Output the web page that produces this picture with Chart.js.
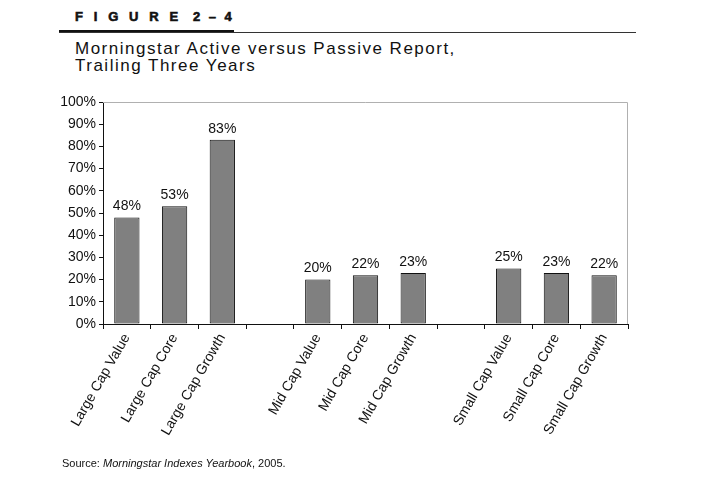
<!DOCTYPE html>
<html>
<head>
<meta charset="utf-8">
<script src="https://cdn.jsdelivr.net/npm/chart.js@4.4.1/dist/chart.umd.min.js"></script>
<style>
  body { margin: 0; background: #fff; font-family: "Liberation Sans", Arial, sans-serif; }
  #wrap { position: relative; width: 720px; height: 500px; overflow: hidden; }
  #fig { position: absolute; left: 75px; top: 9px; font-size: 13px; font-weight: bold; color: #111;
         -webkit-text-stroke: 0.6px #111; white-space: nowrap; }
  #fig .w { letter-spacing: 10.8px; }
  #fig .n { letter-spacing: 8.5px; margin-left: 4px; }
  #thick { position: absolute; left: 59px; top: 30px; width: 175px; height: 3px; background: #111; }
  #thin { position: absolute; left: 59px; top: 32px; width: 577px; height: 1px; background: #333; }
  #title { position: absolute; left: 75px; top: 40px; font-size: 17px; line-height: 17px; letter-spacing: 1.5px; color: #111; }
  #source { position: absolute; left: 62px; top: 457px; font-size: 11px; color: #111; }
  canvas { position: absolute; left: 0; top: 0; }
</style>
</head>
<body>
<div id="wrap">
  <div id="fig"><span class="w">FIGURE</span><span class="n">2–4</span></div>
  <div id="thick"></div>
  <div id="thin"></div>
  <div id="title">Morningstar Active versus Passive Report,<br>Trailing Three Years</div>
  <canvas id="chart" width="720" height="500"></canvas>
  <div id="source">Source: <i>Morningstar Indexes Yearbook</i>, 2005.</div>
</div>
<script>
var categories = ['Large Cap Value', 'Large Cap Core', 'Large Cap Growth', '',
  'Mid Cap Value', 'Mid Cap Core', 'Mid Cap Growth', '',
  'Small Cap Value', 'Small Cap Core', 'Small Cap Growth'];
var values = [48, 53, 83, null, 20, 22, 23, null, 25, 23, 22];
var yTicks = [0, 10, 20, 30, 40, 50, 60, 70, 80, 90, 100];

var font = '"Liberation Sans", Arial, sans-serif';

// value labels above bars + gray top/right frame
var extras = {
  id: 'extras',
  afterDatasetsDraw: function (chart) {
    var ctx = chart.ctx;
    var area = chart.chartArea;
    ctx.save();
    ctx.strokeStyle = '#b0b0b0';
    ctx.lineWidth = 1;
    ctx.beginPath();
    ctx.moveTo(area.left, area.top + 0.5);
    ctx.lineTo(area.right - 0.5, area.top + 0.5);
    ctx.lineTo(area.right - 0.5, area.bottom);
    ctx.stroke();

    ctx.fillStyle = '#111';
    ctx.font = '14px ' + font;
    ctx.textAlign = 'center';
    ctx.textBaseline = 'bottom';
    chart.getDatasetMeta(0).data.forEach(function (bar, i) {
      if (values[i] === null) return;
      ctx.fillText(values[i] + '%', bar.x, bar.y - 4);
    });
    ctx.restore();
  }
};

new Chart(document.getElementById('chart'), {
  type: 'bar',
  data: {
    labels: categories,
    datasets: [{
      data: values,
      backgroundColor: '#808080',
      borderColor: '#111',
      borderWidth: 1,
      borderSkipped: false,
      categoryPercentage: 1,
      barPercentage: 0.53
    }]
  },
  options: {
    responsive: false,
    animation: false,
    devicePixelRatio: 1,
    layout: { padding: { top: 102, right: 92, left: 0, bottom: 0 } },
    plugins: { legend: { display: false }, tooltip: { enabled: false } },
    scales: {
      x: {
        grid: { offset: true, drawOnChartArea: false, tickLength: 5, color: '#111' },
        border: { color: '#111', width: 1 },
        ticks: {
          autoSkip: false, maxRotation: 60, minRotation: 60, padding: 2,
          color: '#111', font: { family: font, size: 14 }
        },
        afterFit: function (scale) { scale.height = 176; }
      },
      y: {
        min: 0, max: 100,
        afterBuildTicks: function (scale) {
          scale.ticks = yTicks.map(function (v) { return { value: v }; });
        },
        grid: { drawOnChartArea: false, tickLength: 4, color: '#111' },
        border: { color: '#111', width: 1 },
        ticks: {
          padding: 3, color: '#111', font: { family: font, size: 14 },
          callback: function (v) { return v + '%'; }
        },
        afterFit: function (scale) { scale.width = 103; }
      }
    }
  },
  plugins: [extras]
});
</script>
</body>
</html>
